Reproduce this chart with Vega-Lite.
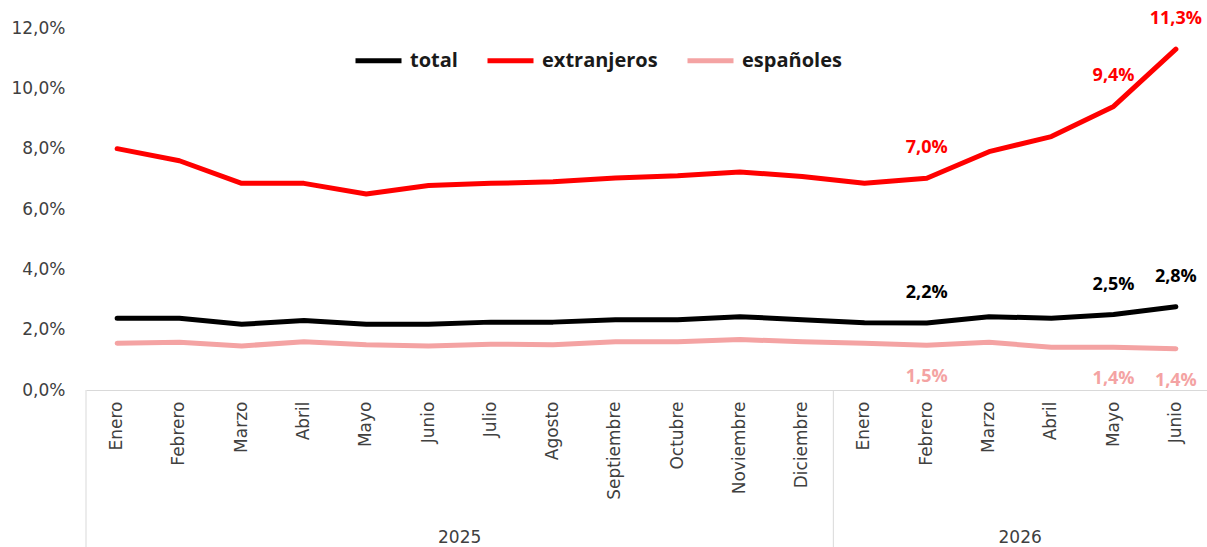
{
  "$schema": "https://vega.github.io/schema/vega-lite/v6.json",
  "autosize": {"type": "none"},
  "padding": {"left": 86, "top": 28, "right": 0, "bottom": 157},
  "width": 1121,
  "height": 362,
  "background": "#ffffff",
  "config": {
    "view": {"stroke": null},
    "locale": {"number": {"decimal": ",", "thousands": ".", "grouping": [3], "currency": ["", " €"]}}
  },
  "datasets": {
    "series": [
      {"clave": "Enero|2025", "serie": "total", "valor": 0.0238},
      {"clave": "Febrero|2025", "serie": "total", "valor": 0.0238},
      {"clave": "Marzo|2025", "serie": "total", "valor": 0.0218},
      {"clave": "Abril|2025", "serie": "total", "valor": 0.0230},
      {"clave": "Mayo|2025", "serie": "total", "valor": 0.0218},
      {"clave": "Junio|2025", "serie": "total", "valor": 0.0218},
      {"clave": "Julio|2025", "serie": "total", "valor": 0.0225},
      {"clave": "Agosto|2025", "serie": "total", "valor": 0.0225},
      {"clave": "Septiembre|2025", "serie": "total", "valor": 0.0233},
      {"clave": "Octubre|2025", "serie": "total", "valor": 0.0233},
      {"clave": "Noviembre|2025", "serie": "total", "valor": 0.0243},
      {"clave": "Diciembre|2025", "serie": "total", "valor": 0.0233},
      {"clave": "Enero|2026", "serie": "total", "valor": 0.0223},
      {"clave": "Febrero|2026", "serie": "total", "valor": 0.0222},
      {"clave": "Marzo|2026", "serie": "total", "valor": 0.0243},
      {"clave": "Abril|2026", "serie": "total", "valor": 0.0238},
      {"clave": "Mayo|2026", "serie": "total", "valor": 0.0250},
      {"clave": "Junio|2026", "serie": "total", "valor": 0.0276},
      {"clave": "Enero|2025", "serie": "extranjeros", "valor": 0.0800},
      {"clave": "Febrero|2025", "serie": "extranjeros", "valor": 0.0760},
      {"clave": "Marzo|2025", "serie": "extranjeros", "valor": 0.0685},
      {"clave": "Abril|2025", "serie": "extranjeros", "valor": 0.0685},
      {"clave": "Mayo|2025", "serie": "extranjeros", "valor": 0.0650},
      {"clave": "Junio|2025", "serie": "extranjeros", "valor": 0.0678},
      {"clave": "Julio|2025", "serie": "extranjeros", "valor": 0.0685},
      {"clave": "Agosto|2025", "serie": "extranjeros", "valor": 0.0690},
      {"clave": "Septiembre|2025", "serie": "extranjeros", "valor": 0.0703},
      {"clave": "Octubre|2025", "serie": "extranjeros", "valor": 0.0710},
      {"clave": "Noviembre|2025", "serie": "extranjeros", "valor": 0.0723},
      {"clave": "Diciembre|2025", "serie": "extranjeros", "valor": 0.0708},
      {"clave": "Enero|2026", "serie": "extranjeros", "valor": 0.0685},
      {"clave": "Febrero|2026", "serie": "extranjeros", "valor": 0.0702},
      {"clave": "Marzo|2026", "serie": "extranjeros", "valor": 0.0790},
      {"clave": "Abril|2026", "serie": "extranjeros", "valor": 0.0840},
      {"clave": "Mayo|2026", "serie": "extranjeros", "valor": 0.0940},
      {"clave": "Junio|2026", "serie": "extranjeros", "valor": 0.1130},
      {"clave": "Enero|2025", "serie": "españoles", "valor": 0.0155},
      {"clave": "Febrero|2025", "serie": "españoles", "valor": 0.0158},
      {"clave": "Marzo|2025", "serie": "españoles", "valor": 0.0146},
      {"clave": "Abril|2025", "serie": "españoles", "valor": 0.0160},
      {"clave": "Mayo|2025", "serie": "españoles", "valor": 0.0150},
      {"clave": "Junio|2025", "serie": "españoles", "valor": 0.0146},
      {"clave": "Julio|2025", "serie": "españoles", "valor": 0.0152},
      {"clave": "Agosto|2025", "serie": "españoles", "valor": 0.0150},
      {"clave": "Septiembre|2025", "serie": "españoles", "valor": 0.0160},
      {"clave": "Octubre|2025", "serie": "españoles", "valor": 0.0160},
      {"clave": "Noviembre|2025", "serie": "españoles", "valor": 0.0167},
      {"clave": "Diciembre|2025", "serie": "españoles", "valor": 0.0160},
      {"clave": "Enero|2026", "serie": "españoles", "valor": 0.0155},
      {"clave": "Febrero|2026", "serie": "españoles", "valor": 0.0148},
      {"clave": "Marzo|2026", "serie": "españoles", "valor": 0.0158},
      {"clave": "Abril|2026", "serie": "españoles", "valor": 0.0142},
      {"clave": "Mayo|2026", "serie": "españoles", "valor": 0.0142},
      {"clave": "Junio|2026", "serie": "españoles", "valor": 0.0137}
    ],
    "grupos": [
      {"anio": "2025", "inicio": "Enero|2025", "centro": "Junio|2025"},
      {"anio": "2026", "inicio": "Enero|2026", "centro": "Marzo|2026"}
    ]
  },
  "encoding": {
    "x": {
      "type": "nominal",
      "scale": {
        "type": "band",
        "paddingInner": 0, "paddingOuter": 0,
        "domain": ["Enero|2025", "Febrero|2025", "Marzo|2025", "Abril|2025", "Mayo|2025", "Junio|2025", "Julio|2025", "Agosto|2025", "Septiembre|2025", "Octubre|2025", "Noviembre|2025", "Diciembre|2025", "Enero|2026", "Febrero|2026", "Marzo|2026", "Abril|2026", "Mayo|2026", "Junio|2026"]
      }
    }
  },
  "layer": [
    {
      "data": {"name": "grupos"},
      "mark": {"type": "rule", "color": "#d9d9d9", "strokeWidth": 1},
      "encoding": {
        "x": {"field": "inicio", "type": "nominal", "bandPosition": 0},
        "y": {"datum": 0, "type": "quantitative"},
        "y2": {"datum": -0.053}
      }
    },
    {
      "data": {"name": "grupos"},
      "mark": {"type": "text", "font": "DejaVu Sans", "fontSize": 17, "color": "#404040", "baseline": "middle", "align": "center"},
      "encoding": {
        "x": {"field": "centro", "type": "nominal", "bandPosition": 1},
        "y": {"datum": -0.0492, "type": "quantitative"},
        "text": {"field": "anio"}
      }
    },
    {
      "data": {"name": "series"},
      "mark": {"type": "line", "strokeWidth": 5, "strokeJoin": "round", "strokeCap": "round"},
      "encoding": {
        "x": {
          "field": "clave", "type": "nominal", "title": null,
          "axis": {
            "labelExpr": "split(datum.value, '|')[0]",
            "labelAngle": -90, "labelAlign": "right", "labelBaseline": "middle",
            "labelPadding": 11, "labelFont": "DejaVu Sans", "labelFontSize": 17, "labelColor": "#404040",
            "labelOverlap": false, "ticks": false, "domainColor": "#d9d9d9", "domainWidth": 1, "grid": false
          }
        },
        "y": {
          "field": "valor", "type": "quantitative", "title": null,
          "scale": {"domain": [0, 0.12], "nice": false, "zero": true},
          "axis": {
            "values": [0, 0.02, 0.04, 0.06, 0.08, 0.1, 0.12], "format": ".1%",
            "grid": false, "domain": false, "ticks": false, "labelPadding": 21,
            "labelFont": "DejaVu Sans", "labelFontSize": 17, "labelColor": "#404040"
          }
        },
        "color": {
          "field": "serie", "type": "nominal",
          "scale": {"domain": ["total", "extranjeros", "españoles"], "range": ["#000000", "#ff0000", "#f4a3a3"]},
          "legend": {
            "title": null, "orient": "none", "direction": "horizontal",
            "legendX": 267, "legendY": 7,
            "symbolType": "stroke", "symbolSize": 2116, "symbolStrokeWidth": 5,
            "labelFont": "Open Sans", "labelFontWeight": "bold", "labelFontSize": 20, "labelColor": "#1a1a1a",
            "labelOffset": 6, "columnPadding": 19
          }
        }
      }
    },
    {
      "data": {"name": "series"},
      "transform": [{"filter": "datum.serie !== 'españoles' && (datum.clave === 'Febrero|2026' || datum.clave === 'Mayo|2026' || datum.clave === 'Junio|2026')"}],
      "mark": {"type": "text", "font": "Open Sans", "fontWeight": "bold", "fontSize": 18, "dy": -30, "baseline": "middle"},
      "encoding": {
        "x": {"field": "clave", "type": "nominal"},
        "y": {"field": "valor", "type": "quantitative"},
        "text": {"field": "valor", "type": "quantitative", "format": ".1%"},
        "color": {"field": "serie", "type": "nominal", "legend": null}
      }
    },
    {
      "data": {"name": "series"},
      "transform": [{"filter": "datum.serie === 'españoles' && (datum.clave === 'Febrero|2026' || datum.clave === 'Mayo|2026' || datum.clave === 'Junio|2026')"}],
      "mark": {"type": "text", "font": "Open Sans", "fontWeight": "bold", "fontSize": 18, "dy": 32, "baseline": "middle"},
      "encoding": {
        "x": {"field": "clave", "type": "nominal"},
        "y": {"field": "valor", "type": "quantitative"},
        "text": {"field": "valor", "type": "quantitative", "format": ".1%"},
        "color": {"field": "serie", "type": "nominal", "legend": null}
      }
    }
  ]
}
